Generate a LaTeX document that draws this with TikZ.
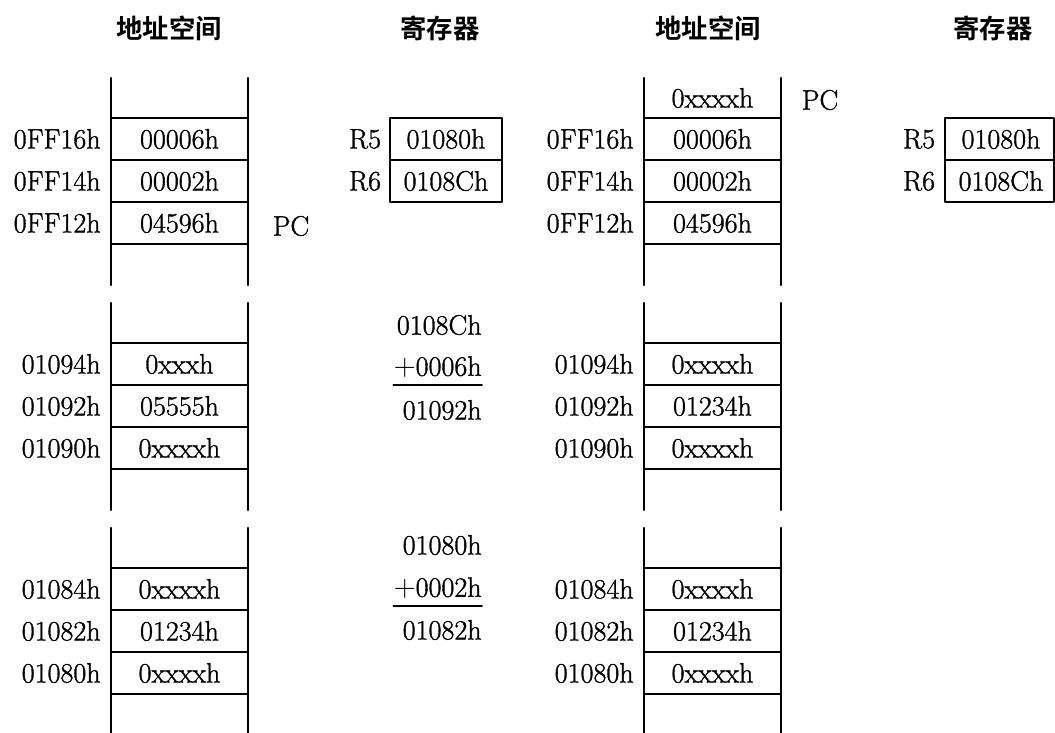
\documentclass[tikz,border=0pt]{standalone}
\usepackage{fontspec}
\setmainfont{Latin Modern Roman}[FakeBold=1.2]
\newfontfamily\cjk{Noto Sans CJK SC Bold}

\tikzset{
  wall/.style={line width=1.4pt},
  sep/.style={line width=1.1pt},
  addr/.style={anchor=east, inner sep=0pt},
  cell/.style={inner sep=0pt},
  title/.style={inner sep=0pt, font=\cjk\fontsize{15}{18}\selectfont}
}

\begin{document}
\begin{tikzpicture}[x=0.02cm, y=-0.02cm, line cap=round, line join=round,
  every node/.append style={font=\fontsize{16}{19}\selectfont}]

% ----------------- Parameters -----------------
\def\colL{111}      % left edge of the left memory column
\def\colR{644}      % left edge of the right memory column
\def\cw{137}        % column width
\def\rh{42}         % row height
\def\bh{207}        % height of one memory block

\useasboundingbox (0,0) rectangle (1055,733);

% ----------------- Titles -----------------
\node[title] (tAddrL) at (169,28) {地址空间};
\node[title] (tRegL)  at (440,28) {寄存器};
\node[title] (tAddrR) at (708,28) {地址空间};
\node[title] (tRegR)  at (993,28) {寄存器};

% ----------------- Memory blocks (walls + row separators) -----------------
\foreach \x in {\colL,\colR}
  \foreach \t in {78,303,528} {
    \draw[wall] (\x,\t) -- (\x,\t+\bh);
    \draw[wall] (\x+\cw,\t) -- (\x+\cw,\t+\bh);
    \foreach \k in {0,...,3}
      \draw[sep] (\x,\t+40+\k*\rh) -- (\x+\cw,\t+40+\k*\rh);
  }

% ----------------- Left column: addresses and contents -----------------
\foreach \t/\aa/\ab/\ac/\va/\vb/\vc [count=\i] in {
    78/0FF16h/0FF14h/0FF12h/00006h/00002h/04596h,
    303/01094h/01092h/01090h/0xxxh/05555h/0xxxxh,
    528/01084h/01082h/01080h/0xxxxh/01234h/0xxxxh} {
  \node[addr] (aL\i-1) at (\colL-10,\t+61)  {\aa};
  \node[addr] (aL\i-2) at (\colL-10,\t+103) {\ab};
  \node[addr] (aL\i-3) at (\colL-10,\t+145) {\ac};
  \node[cell] (vL\i-1) at (\colL+\cw/2,\t+61)  {\va};
  \node[cell] (vL\i-2) at (\colL+\cw/2,\t+103) {\vb};
  \node[cell] (vL\i-3) at (\colL+\cw/2,\t+145) {\vc};
}

% ----------------- Right column: addresses and contents -----------------
\foreach \t/\aa/\ab/\ac/\va/\vb/\vc [count=\i] in {
    78/0FF16h/0FF14h/0FF12h/00006h/00002h/04596h,
    303/01094h/01092h/01090h/0xxxxh/01234h/0xxxxh,
    528/01084h/01082h/01080h/0xxxxh/01234h/0xxxxh} {
  \node[addr] (aR\i-1) at (\colR-10,\t+61)  {\aa};
  \node[addr] (aR\i-2) at (\colR-10,\t+103) {\ab};
  \node[addr] (aR\i-3) at (\colR-10,\t+145) {\ac};
  \node[cell] (vR\i-1) at (\colR+\cw/2,\t+61)  {\va};
  \node[cell] (vR\i-2) at (\colR+\cw/2,\t+103) {\vb};
  \node[cell] (vR\i-3) at (\colR+\cw/2,\t+145) {\vc};
}
\node[cell] (vR0) at (\colR+\cw/2,98) {0xxxxh};

% ----------------- PC markers -----------------
\node[cell] (pcL) at (291,226) {PC};
\node[cell] (pcR) at (820,100) {PC};

% ----------------- Registers -----------------
\draw[wall] (390,118) rectangle (502,202);
\draw[sep]  (390,160) -- (502,160);
\node[cell] (r5L) at (365,139) {R5};
\node[cell] (r6L) at (365,181) {R6};
\node[cell] (v5L) at (446,139) {01080h};
\node[cell] (v6L) at (446,181) {0108Ch};

\draw[wall] (945,118) rectangle (1054,202);
\draw[sep]  (945,160) -- (1054,160);
\node[cell] (r5R) at (919,139) {R5};
\node[cell] (r6R) at (919,181) {R6};
\node[cell] (v5R) at (1001,139) {01080h};
\node[cell] (v6R) at (1001,181) {0108Ch};

% ----------------- Address sums -----------------
\node[addr] (sumA1) at (482,325) {0108Ch};
\node[addr] (sumA2) at (482,367) {$+$0006h};
\node[addr] (sumA3) at (482,410) {01092h};
\draw[sep] ([yshift=-4pt]sumA2.south west) -- ([yshift=-4pt]sumA2.south east);

\node[addr] (sumB1) at (482,545) {01080h};
\node[addr] (sumB2) at (482,588) {$+$0002h};
\node[addr] (sumB3) at (482,630) {01082h};
\draw[sep] ([yshift=-4pt]sumB2.south west) -- ([yshift=-4pt]sumB2.south east);

\end{tikzpicture}
\end{document}
